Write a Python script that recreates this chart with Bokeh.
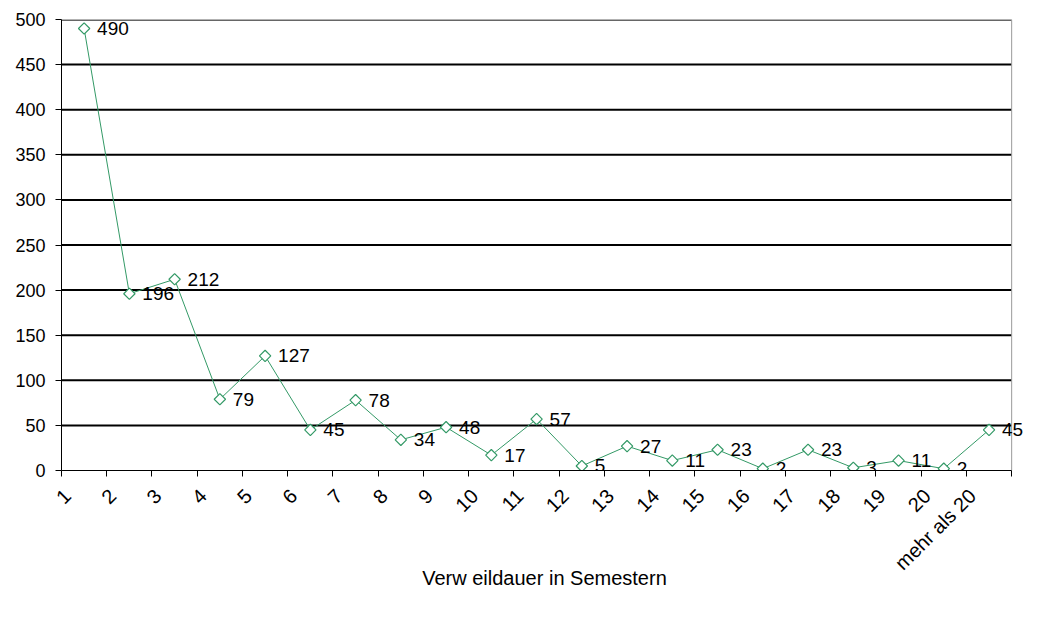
import math
from bokeh.plotting import figure
from bokeh.models import ColumnDataSource, Range1d, FixedTicker, Span, LabelSet
from bokeh.core.properties import value
from bokeh.embed import file_html
from bokeh.resources import INLINE

categories = ["1", "2", "3", "4", "5", "6", "7", "8", "9", "10", "11", "12", "13",
              "14", "15", "16", "17", "18", "19", "20", "mehr als 20"]
counts = [490, 196, 212, 79, 127, 45, 78, 34, 48, 17, 57, 5, 27, 11, 23, 2, 23, 3, 11, 2, 45]
y_ticks = [0, 50, 100, 150, 200, 250, 300, 350, 400, 450, 500]
x_title = "Verw eildauer in Semestern"

FONT = "Liberation Sans"
GREEN = "#339966"

n = len(categories)
xs = [i + 0.5 for i in range(n)]
label_pos = [i + 0.13 for i in range(n)]
src = ColumnDataSource(dict(x=xs, y=counts, lbl=[str(c) for c in counts]))
grid_y = y_ticks[1:-1]
grid_src = ColumnDataSource(dict(x0=[0] * len(grid_y), x1=[n] * len(grid_y), y=grid_y))

# extra room on the right (inside the frame) so the last data label is not clipped
p = figure(output_backend="svg", toolbar_location=None,
           frame_width=966, frame_height=451,
           min_border_left=61, min_border_right=1, min_border_top=19, min_border_bottom=133,
           x_range=Range1d(0, n + 0.35), y_range=Range1d(0, 500))
p.background_fill_color = "white"
p.border_fill_color = "white"
p.outline_line_color = None

# grid lines drawn only across the categories
p.xgrid.visible = False
p.ygrid.visible = False
p.segment(x0="x0", y0="y", x1="x1", y1="y", source=grid_src, line_color="black", line_width=2)
p.segment(x0=[0], y0=[y_ticks[-1]], x1=[n], y1=[y_ticks[-1]], line_color="#666666", line_width=3)
p.segment(x0=[n], y0=[0], x1=[n], y1=[y_ticks[-1]], line_color="#999999", line_width=1)

# y axis
p.yaxis.ticker = FixedTicker(ticks=y_ticks)
p.yaxis.axis_line_color = "black"
p.yaxis.major_tick_line_color = "black"
p.yaxis.major_tick_out = 6
p.yaxis.major_tick_in = 0
p.yaxis.minor_tick_line_color = None
p.yaxis.major_label_standoff = 10
p.yaxis.major_label_text_font = FONT
p.yaxis.major_label_text_font_size = "18px"
p.yaxis.major_label_text_color = "black"

# x axis
p.xaxis.bounds = (0, n)
p.xaxis.ticker = FixedTicker(ticks=label_pos, minor_ticks=list(range(n + 1)))
p.xaxis.major_label_overrides = {x: c for x, c in zip(label_pos, categories)}
p.xaxis.major_tick_out = 0
p.xaxis.major_tick_in = 0
p.xaxis.minor_tick_out = 6
p.xaxis.minor_tick_in = 0
p.xaxis.minor_tick_line_color = "black"
p.xaxis.axis_line_color = "black"
p.xaxis.major_label_orientation = math.pi / 4
p.xaxis.major_label_standoff = 16
p.xaxis.major_label_text_font = FONT
p.xaxis.major_label_text_font_size = "20px"
p.xaxis.major_label_text_color = "black"
p.xaxis.axis_label = x_title
p.xaxis.axis_label_text_font = FONT
p.xaxis.axis_label_text_font_size = "20px"
p.xaxis.axis_label_text_font_style = "normal"
p.xaxis.axis_label_text_color = "black"
p.xaxis.axis_label_standoff = -18

# series
p.line("x", "y", source=src, line_color=GREEN, line_width=1)
p.scatter("x", "y", source=src, marker="square", angle=math.pi / 4, size=8,
          fill_color="white", line_color=GREEN, line_width=1.2)
labels = LabelSet(x="x", y="y", text="lbl", source=src, x_offset=13, text_baseline="middle",
                  text_align="left", text_font=value(FONT), text_font_size="19px",
                  text_color="black")
p.add_layout(labels)

open("out.html", "w").write(file_html(p, INLINE))
